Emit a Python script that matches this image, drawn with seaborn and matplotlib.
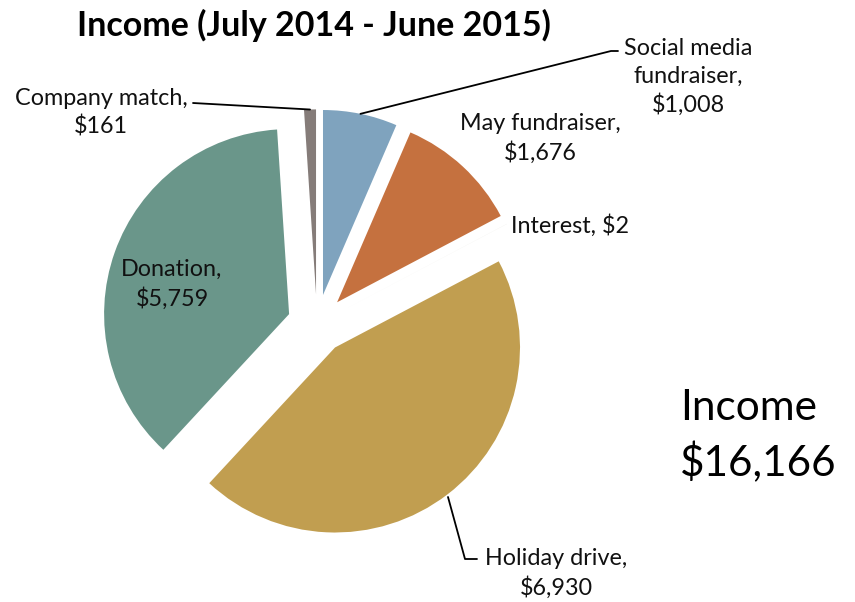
import matplotlib
matplotlib.use("Agg")
import matplotlib.pyplot as plt
import seaborn as sns
import numpy as np

# ---- data ----
categories = ["Social media fundraiser", "May fundraiser", "Interest",
              "Holiday drive", "Donation", "Company match"]
values = [1008, 1676, 2, 6930, 5759, 161]
value_labels = ["$1,008", "$1,676", "$2", "$6,930", "$5,759", "$161"]
colors = ["#7FA3BE", "#C5713F", "#E6E6DF", "#C19E50", "#6A968A", "#857C79"]
title = "Income (July 2014 - June 2015)"
total_title = "Income"
total_label = "$16,166"

sns.set_theme(style="white")
plt.rcParams["font.family"] = ["Lato", "DejaVu Sans"]

W, H = 855, 602
fig = plt.figure(figsize=(W / 100, H / 100), dpi=100)
ax = fig.add_axes([0, 0, 1, 1])

# pie centre and radius in pixels
CX, CY, R = 317, 324, 185


def P(px, py):
    return ((px - CX) / R, (CY - py) / R)


wedges, _ = ax.pie(values, colors=colors, startangle=90, counterclock=False,
                   explode=[0.16] * len(values), radius=1.0,
                   wedgeprops=dict(linewidth=0))
ax.set_xlim(-CX / R, (W - CX) / R)
ax.set_ylim(-(H - CY) / R, CY / R)
ax.set_aspect("auto")
ax.axis("off")


def arc_mid(w):
    th = np.deg2rad((w.theta1 + w.theta2) / 2)
    cx, cy = w.center
    return cx + w.r * np.cos(th), cy + w.r * np.sin(th)


lab = dict(fontsize=16.8, color="#111111", linespacing=1.38)

# Title
ax.text(*P(314, 25), title, ha="center", va="center", fontsize=24.5,
        fontweight="bold", color="#000000")

# Social media fundraiser
sx, sy = arc_mid(wedges[0])
ex, ey = P(611, 51)
ax.plot([sx, ex, P(618, 51)[0]], [sy, ey, ey], color="black", lw=1.3)
ax.text(*P(688, 77), "Social media\nfundraiser,\n" + value_labels[0],
        ha="center", va="center", **lab)

# May fundraiser
ax.text(*P(540, 138), "May fundraiser,\n" + value_labels[1],
        ha="center", va="center", **lab)

# Interest
ax.text(*P(511, 226), "Interest, " + value_labels[2], ha="left",
        va="center", **lab)

# Holiday drive
hx, hy = P(448, 497)
mx, my = P(465, 559)
ax.plot([hx, mx, P(477, 559)[0]], [hy, my, my], color="black", lw=1.3)
ax.text(*P(556, 573), "Holiday drive,\n" + value_labels[3],
        ha="center", va="center", **lab)

# Donation
ax.text(*P(172, 284), "Donation,\n" + value_labels[4],
        ha="center", va="center", **lab)

# Company match
cmx, cmy = arc_mid(wedges[5])
tx, ty = P(193, 103)
ax.plot([tx, cmx], [ty, cmy], color="black", lw=1.3)
ax.text(*P(101, 113), "Company match,\n" + value_labels[5],
        ha="center", va="center", **lab)

# Total
ax.text(*P(680, 408), total_title, ha="left", va="center", fontsize=30.5,
        color="#000000")
ax.text(*P(680, 463), total_label, ha="left", va="center", fontsize=30.5,
        color="#000000")

fig.savefig("out.png", dpi=100)
